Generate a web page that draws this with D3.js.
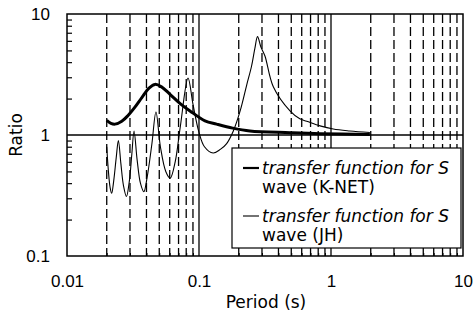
<!DOCTYPE html>
<html lang="en">
  <head>
    <meta charset="UTF-8" />
    <title>Transfer function</title>
    <style>
      body {
        margin: 0;
        background: #fff;
      }
      #chart {
        width: 474px;
        height: 317px;
      }
    </style>
  </head>
  <body>
    <div id="chart"></div>
    <script src="https://cdn.jsdelivr.net/npm/d3@7"></script>
    <script>
      // values
      var xTicks = [0.01, 0.1, 1, 10];
      var xTickLabels = ["0.01", "0.1", "1", "10"];
      var yTicks = [0.1, 1, 10];
      var yTickLabels = ["0.1", "1", "10"];

      var knetPeriod = [0.02, 0.0215, 0.0231, 0.026, 0.029, 0.0327, 0.037, 0.042, 0.0464, 0.052,
        0.0603, 0.072, 0.0855, 0.111, 0.136, 0.18, 0.243, 0.489, 0.826, 1.97];
      var knetRatio = [1.32, 1.25, 1.23, 1.3, 1.45, 1.7, 2.05, 2.45, 2.62, 2.5,
        2.17, 1.82, 1.58, 1.31, 1.23, 1.14, 1.08, 1.045, 1.025, 1.01];

      var jhPeriod = [0.02, 0.0206, 0.0212, 0.0218, 0.0226, 0.0236, 0.0245, 0.0256, 0.0268, 0.0282,
        0.0297, 0.031, 0.0322, 0.034, 0.036, 0.0382, 0.0405, 0.044, 0.0472, 0.051,
        0.056, 0.0605, 0.066, 0.072, 0.0826, 0.09, 0.1, 0.11, 0.128, 0.145,
        0.162, 0.182, 0.205, 0.23, 0.25, 0.265, 0.2775, 0.295, 0.316, 0.3655,
        0.489, 0.58, 0.655, 0.826, 1.04, 1.39, 1.97];
      var jhRatio = [0.8, 0.5, 0.37, 0.33, 0.42, 0.65, 0.9, 0.58, 0.38, 0.31,
        0.42, 0.7, 1.08, 0.62, 0.4, 0.34, 0.45, 0.85, 1.55, 0.8,
        0.5, 0.44, 0.6, 1.15, 2.95, 1.8, 1.05, 0.8, 0.71, 0.76,
        0.85, 1.08, 1.58, 2.6, 3.7, 5.2, 6.5, 5.3, 4.5, 2.5,
        1.58, 1.36, 1.3, 1.19, 1.12, 1.08, 1.05];

      var legendLabels = [
        ["transfer function for S", "wave (K-NET)"],
        ["transfer function for S", "wave (JH)"]
      ];

      var width = 474;
      var height = 317;
      var plotLeft = 67, plotRight = 463, plotTop = 14, plotBottom = 256;

      var svg = d3
        .select("#chart")
        .append("svg")
        .attr("width", width)
        .attr("height", height);

      var x = d3.scaleLog().domain([0.01, 10]).range([plotLeft, plotRight]);
      var y = d3.scaleLog().domain([0.1, 10]).range([plotBottom, plotTop]);

      // minor values inside each decade
      var xMinor = [];
      [0.01, 0.1, 1].forEach(function (d) {
        for (var k = 2; k <= 9; k++) xMinor.push(d * k);
      });
      var yMinor = [];
      [0.1, 1].forEach(function (d) {
        for (var k = 2; k <= 9; k++) yMinor.push(d * k);
      });

      // dashed grid
      svg
        .append("g")
        .selectAll("line")
        .data(xMinor)
        .enter()
        .append("line")
        .attr("x1", function (d) { return x(d); })
        .attr("x2", function (d) { return x(d); })
        .attr("y1", plotTop)
        .attr("y2", plotBottom)
        .attr("stroke", "#000")
        .attr("stroke-width", 1.3)
        .attr("stroke-dasharray", "9,4");

      // solid decade lines
      svg
        .append("g")
        .selectAll("line")
        .data([0.1, 1])
        .enter()
        .append("line")
        .attr("x1", function (d) { return x(d); })
        .attr("x2", function (d) { return x(d); })
        .attr("y1", plotTop)
        .attr("y2", plotBottom)
        .attr("stroke", "#000")
        .attr("stroke-width", 1.3);

      svg
        .append("line")
        .attr("x1", plotLeft)
        .attr("x2", plotRight)
        .attr("y1", y(1))
        .attr("y2", y(1))
        .attr("stroke", "#000")
        .attr("stroke-width", 1.3);

      var line = d3
        .line()
        .curve(d3.curveCatmullRom.alpha(0.5))
        .x(function (d) { return x(d[0]); })
        .y(function (d) { return y(d[1]); });

      var jh = d3.zip(jhPeriod, jhRatio);
      var knet = d3.zip(knetPeriod, knetRatio);

      svg
        .append("path")
        .attr("d", line(jh))
        .attr("fill", "none")
        .attr("stroke", "#000")
        .attr("stroke-width", 1.1);

      svg
        .append("path")
        .attr("d", line(knet))
        .attr("fill", "none")
        .attr("stroke", "#000")
        .attr("stroke-width", 3);

      // minor ticks (inward)
      var yMinorAxis = svg
        .append("g")
        .attr("transform", "translate(" + plotLeft + ",0)")
        .call(d3.axisRight(y).tickValues(yMinor).tickSize(5).tickFormat(""));
      yMinorAxis.select(".domain").remove();
      yMinorAxis.selectAll("line").attr("stroke-width", 1.2);

      var xMinorAxis = svg
        .append("g")
        .attr("transform", "translate(0," + plotBottom + ")")
        .call(d3.axisTop(x).tickValues(xMinor).tickSize(3).tickFormat(""));
      xMinorAxis.select(".domain").remove();

      // legend
      var legend = svg.append("g");
      legend
        .append("rect")
        .attr("x", 232)
        .attr("y", 148)
        .attr("width", 229)
        .attr("height", 100)
        .attr("fill", "#fff")
        .attr("stroke", "#000")
        .attr("stroke-width", 1.2);

      var legendWidths = [2.2, 1.1];
      legendLabels.forEach(function (lab, i) {
        var g = legend.append("g").attr("transform", "translate(0," + i * 48 + ")");
        g.append("line")
          .attr("x1", 243)
          .attr("x2", 259)
          .attr("y1", 168)
          .attr("y2", 168)
          .attr("stroke", "#000")
          .attr("stroke-width", legendWidths[i]);
        g.append("text")
          .attr("x", 262)
          .attr("y", 174)
          .attr("font-family", "DejaVu Sans")
          .attr("font-style", "italic")
          .attr("font-size", 17)
          .text(lab[0]);
        g.append("text")
          .attr("x", 262)
          .attr("y", 193)
          .attr("font-family", "DejaVu Sans")
          .attr("font-size", 17)
          .text(lab[1]);
      });

      // plot frame
      svg
        .append("rect")
        .attr("x", plotLeft)
        .attr("y", plotTop)
        .attr("width", plotRight - plotLeft)
        .attr("height", plotBottom - plotTop)
        .attr("fill", "none")
        .attr("stroke", "#000")
        .attr("stroke-width", 1.5);

      // tick labels
      var xAxis = svg
        .append("g")
        .attr("transform", "translate(0," + plotBottom + ")")
        .call(
          d3.axisBottom(x)
            .tickValues(xTicks)
            .tickSize(0)
            .tickPadding(19)
            .tickFormat(function (d, i) { return xTickLabels[i]; })
        );
      xAxis.select(".domain").remove();
      xAxis
        .selectAll("text")
        .attr("fill", "#000")
        .attr("font-family", "Liberation Sans")
        .attr("font-size", 17);

      var yAxis = svg
        .append("g")
        .attr("transform", "translate(" + plotLeft + ",0)")
        .call(
          d3.axisLeft(y)
            .tickValues(yTicks)
            .tickSize(0)
            .tickPadding(17)
            .tickFormat(function (d, i) { return yTickLabels[i]; })
        );
      yAxis.select(".domain").remove();
      yAxis
        .selectAll("text")
        .attr("fill", "#000")
        .attr("font-family", "Liberation Sans")
        .attr("font-size", 17);

      // axis titles
      svg
        .append("text")
        .attr("x", 266)
        .attr("y", 308)
        .attr("text-anchor", "middle")
        .attr("font-family", "DejaVu Sans")
        .attr("font-size", 17)
        .text("Period (s)");

      svg
        .append("text")
        .attr("transform", "translate(22,135) rotate(-90)")
        .attr("text-anchor", "middle")
        .attr("font-family", "DejaVu Sans")
        .attr("font-size", 17)
        .text("Ratio");
    </script>
  </body>
</html>
